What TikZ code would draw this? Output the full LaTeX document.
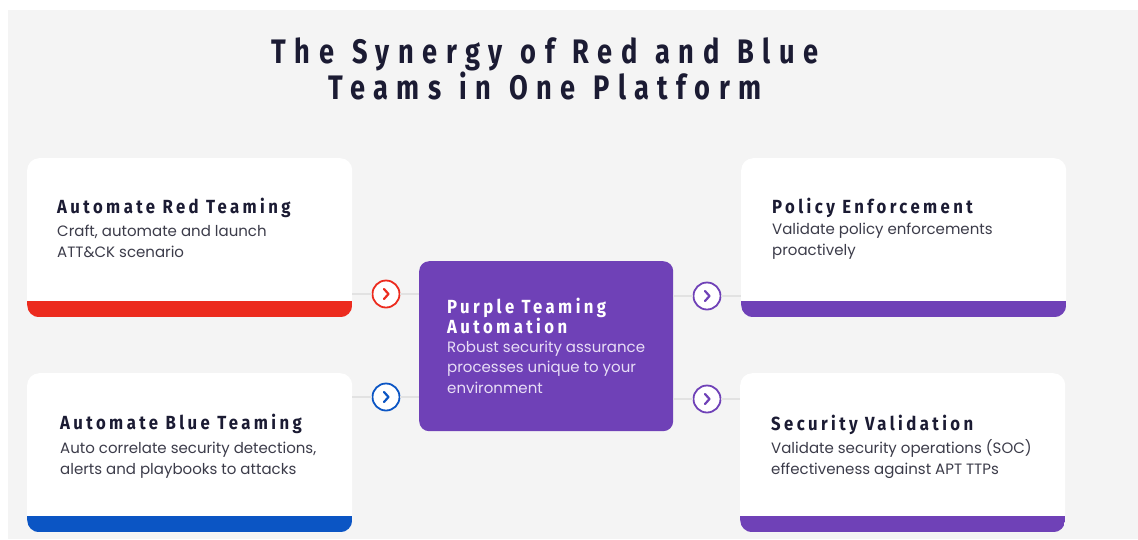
\documentclass[tikz,border=0pt]{standalone}
\usepackage{fontspec}
\setmainfont{Poppins}
\newfontfamily\headfont{Fira Sans}[FakeStretch=0.8,LetterSpace=25,WordSpace=1.2]
\newfontfamily\cardfont{Fira Sans}[FakeStretch=0.88,LetterSpace=18]
\usetikzlibrary{positioning,calc}
\tikzset{
  every node/.append style={inner sep=0pt},
  card/.style={fill=white, rounded corners=12pt, minimum width=325pt, minimum height=159pt,
    path picture={\fill[#1, sharp corners] ([yshift=16.5pt]path picture bounding box.south west) rectangle (path picture bounding box.south east);}},
  cardtitle/.style={anchor=base west, align=left, text=navytext, font=\cardfont\bfseries\fontsize{19}{20}\selectfont},
  cardbody/.style={anchor=base west, align=left, text=bodytext, font=\fontsize{15}{20.5}\selectfont},
  chevron/.style={circle, draw=#1, line width=1.8pt, fill=white, minimum size=27pt,
    path picture={\draw[#1, line width=2.2pt, line cap=round, line join=round, sharp corners]
      ([xshift=-2pt,yshift=5pt]path picture bounding box.center) -- ++(4.5pt,-5pt) -- ++(-4.5pt,-5pt);}},
  wire/.style={draw=wiregray, line width=1.2pt}
}

\begin{document}
\begin{tikzpicture}[x=1pt, y=-1pt]
\definecolor{pagegray}{HTML}{F4F4F4}
\definecolor{navytext}{HTML}{1B1B33}
\definecolor{bodytext}{HTML}{3C3C4A}
\definecolor{wiregray}{HTML}{E2E2E2}
\definecolor{teamred}{HTML}{EC2B1E}
\definecolor{teamblue}{HTML}{0B55C4}
\definecolor{teampurple}{HTML}{6F41B7}
\definecolor{purplebody}{HTML}{E8DEF6}

\useasboundingbox (0,0) rectangle (1138,539);
\fill[pagegray] (8,10) rectangle (1138,539);

\node[font=\headfont\bfseries\fontsize{34}{36}\selectfont, align=center, anchor=base, text=navytext] (title) at (545,99)
  {The Synergy of Red and Blue\\Teams in One Platform};

% cards
\node[card=teamred, anchor=north west] (redcard) at (27,158) {};
\node[card=teamblue, anchor=north west] (bluecard) at (27,373) {};
\node[card=teampurple, anchor=north west] (policy) at (741,158) {};
\node[card=teampurple, anchor=north west] (secval) at (740,373) {};
\node[fill=teampurple, rounded corners=10pt, minimum width=254pt, minimum height=170pt, anchor=north west] (purple) at (419,261) {};

\node[cardtitle] (redtitle) at (57,213) {Automate Red Teaming};
\node[cardbody] (redtext) at (57,257) {Craft, automate and launch\\ATT\&CK scenario};
\node[cardtitle] (bluetitle) at (60,429) {Automate Blue Teaming};
\node[cardbody] (bluetext) at (60,474) {Auto correlate security detections,\\alerts and playbooks to attacks};
\node[cardtitle] (policytitle) at (772,213) {Policy Enforcement};
\node[cardbody] (policytext) at (772,255) {Validate policy enforcements\\proactively};
\node[cardtitle] (sectitle) at (771,430) {Security Validation};
\node[cardbody] (sectext) at (771,474) {Validate security operations (SOC)\\effectiveness against APT TTPs};
\node[cardtitle, text=white] (purpletitle) at (447,333) {Purple Teaming\\Automation};
\node[cardbody, text=purplebody] (purpletext) at (447,393) {Robust security assurance\\processes unique to your\\environment};

% arrows
\node[chevron=teamred] (redarr) at (386,294) {};
\node[chevron=teamblue] (bluearr) at (386,397) {};
\node[chevron=teampurple] (policyarr) at (707,296) {};
\node[chevron=teampurple] (secarr) at (707,399) {};

\draw[wire] (redcard.east |- redarr) -- (redarr.west);
\draw[wire] (redarr.east) -- (purple.west |- redarr);
\draw[wire] (bluecard.east |- bluearr) -- (bluearr.west);
\draw[wire] (bluearr.east) -- (purple.west |- bluearr);
\draw[wire] (purple.east |- policyarr) -- (policyarr.west);
\draw[wire] (policyarr.east) -- (policy.west |- policyarr);
\draw[wire] (purple.east |- secarr) -- (secarr.west);
\draw[wire] (secarr.east) -- (secval.west |- secarr);
\end{tikzpicture}
\end{document}
